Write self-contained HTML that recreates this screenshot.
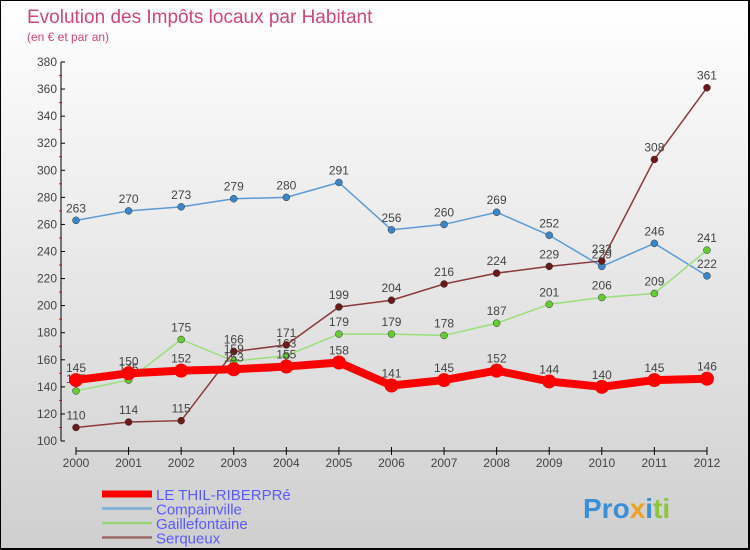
<!DOCTYPE html>
<html><head><meta charset="utf-8"><style>
body{margin:0}
#c{width:750px;height:550px;position:relative;background:linear-gradient(#ffffff,#cfcfcf);font-family:"Liberation Sans",sans-serif;overflow:hidden;box-sizing:border-box;border:1px solid #000;border-right:2px solid #000;border-bottom:2px solid #000}
</style></head><body>
<div id="c">
<svg id="s" width="750" height="550" style="position:absolute;left:0;top:0">
<text x="26" y="22" font-size="19" fill="#d0457a">Evolution des Impôts locaux par Habitant</text>
<text x="26" y="40" font-size="12" fill="#d0457a">(en € et par an)</text>
<g id="axes"></g><g id="series"></g>
<text x="582" y="517" font-size="28" font-weight="bold" fill="#3a8fd6">Pro<tspan fill="#f0a020">x</tspan><tspan fill="#3a8fd6">i</tspan><tspan fill="#8cc63f">ti</tspan></text>
</svg>
</div>
<script>
const years=[2000,2001,2002,2003,2004,2005,2006,2007,2008,2009,2010,2011,2012];
const yTicks=[100,120,140,160,180,200,220,240,260,280,300,320,340,360,380];
const names=["LE THIL-RIBERPRé","Compainville","Gaillefontaine","Serqueux"];
const thil=[145,150,152,153,155,158,141,145,152,144,140,145,146];
const comp=[263,270,273,279,280,291,256,260,269,252,229,246,222];
const gail=[137,145,175,159,163,179,179,178,187,201,206,209,241];
const serq=[110,114,115,166,171,199,204,216,224,229,233,308,361];
const NS="http://www.w3.org/2000/svg";
const X=i=>75+i*52.58, Y=v=>440-(v-100)*379/280;
function mk(t,a,p){const e=document.createElementNS(NS,t);for(const k in a)e.setAttribute(k,a[k]);p.appendChild(e);return e;}
const ax=document.getElementById('axes'), sg=document.getElementById('series');
let yl=mk('line',{x1:60,y1:Y(380),x2:60,y2:440,stroke:'#000'},ax);

yTicks.forEach(v=>{mk('line',{x1:60,x2:64,y1:Y(v),y2:Y(v),stroke:'#000'},ax);
 if(v<380)mk('line',{x1:58,x2:61,y1:Y(v+10),y2:Y(v+10),stroke:'#f00'},ax);
 const t=mk('text',{x:56,y:Y(v)+4,'text-anchor':'end','font-size':12,fill:'#444'},ax);t.textContent=v;
 });
let xl=mk('line',{x1:75,y1:450,x2:X(12),y2:450,stroke:'#000'},ax);

years.forEach((y,i)=>{mk('line',{x1:X(i),x2:X(i),y1:446,y2:454,stroke:'#000'},ax);
 const t=mk('text',{x:X(i),y:466,'text-anchor':'middle','font-size':12,fill:'#444'},ax);t.textContent=y;
 });
const ser=[[comp,'#5b9bd5','#3d85c6',1.5,3.5],[gail,'#99e07a','#66cc33',1.5,3.5],[serq,'#8b3a3a','#6b1a1a',1.5,3.5],[thil,'#ff0000','#ff0000',8,7]];
const sn=['compainville','gaillefontaine','serqueux','le-thil'];
ser.forEach((s,k)=>{const [d,lc,pc,w,r]=s;
 const p=mk('polyline',{points:d.map((v,i)=>X(i)+','+Y(v)).join(' '),fill:'none',stroke:lc,'stroke-width':w},sg);
 
 d.forEach((v,i)=>{const c=mk('circle',{cx:X(i),cy:Y(v),r:r,fill:pc,stroke:k==3?'none':'#333','stroke-width':0.5},sg);
  
  const t=mk('text',{x:X(i),y:Y(v)-8,'text-anchor':'middle','font-size':12,fill:'#444'},sg);t.textContent=v;
  });});
const lg=[['#ff0000',7],['#7aaed6',2.5],['#99d67a',2.5],['#9a6a6a',2.5]];
lg.forEach((l,i)=>{const y=493+i*14.5;
 const ln=mk('line',{x1:101,x2:151,y1:y,y2:y,stroke:l[0],'stroke-width':l[1]},sg);
 
 const t=mk('text',{x:155,y:y+6,'font-size':15,fill:'#5a5aff'},sg);t.textContent=names[i];
 });
</script>
</body></html>
